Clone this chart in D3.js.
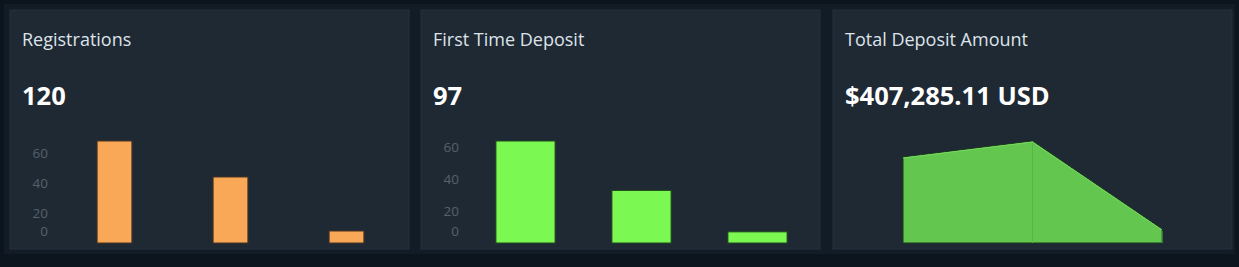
<!DOCTYPE html>
<html>
<head>
<meta charset="utf-8">
<script src="https://cdn.jsdelivr.net/npm/d3@7.9.0/dist/d3.min.js"></script>
<style>
  html, body { margin: 0; padding: 0; background: #0e1821; }
  svg { display: block; }
</style>
</head>
<body>
<svg id="chart" width="1239" height="267"></svg>
<script>
const titles = ['Registrations', 'First Time Deposit', 'Total Deposit Amount'];
const totals = ['120', '97', '$407,285.11 USD'];
const periods = ['P1', 'P2', 'P3'];
const registrations = [68, 44, 8];
const firstDeposits = [64, 33, 7];
const depositAmounts = [173380, 205640, 28265.11];
const yTicks = [0, 20, 40, 60];

const svg = d3.select('#chart');

// background bands
svg.append('rect').attr('width', 1239).attr('height', 267).attr('fill', '#0c151e');
svg.append('rect').attr('x', 4).attr('y', 4).attr('width', 1231).attr('height', 250).attr('fill', '#111c26');

const panelX = [10, 421, 833];
const panelW = 399;
const panelTop = 10, panelH = 239;
const baseY = 243, topY = 141;

const panels = svg.selectAll('g.panel')
  .data(titles)
  .enter()
  .append('g')
  .attr('class', 'panel')
  .attr('transform', (d, i) => `translate(${panelX[i]},${panelTop})`);

panels.append('rect')
  .attr('width', panelW)
  .attr('height', panelH)
  .attr('fill', '#1e2934')
  .attr('stroke', '#24303c')
  .attr('stroke-width', 1);

panels.append('text')
  .attr('x', 12)
  .attr('y', 35.5)
  .attr('fill', '#dde3e9')
  .style('font', '18px "Open Sans", sans-serif')
  .text(d => d);

panels.append('text')
  .attr('x', 12)
  .attr('y', 95)
  .attr('fill', '#ffffff')
  .style('font', 'bold 25.5px "Open Sans", sans-serif')
  .text((d, i) => totals[i]);

// Bar panel helper
function drawBars(g, values, color, stroke, padInner) {
  const x = d3.scaleBand()
    .domain(periods)
    .range([46.5, 394.5])
    .paddingInner(padInner)
    .paddingOuter(padInner / 2);
  const y = d3.scaleLinear()
    .domain([0, d3.max(values)])
    .range([baseY - panelTop, topY - panelTop]);

  const axis = g.append('g')
    .attr('transform', 'translate(40,0)')
    .call(d3.axisLeft(y).tickValues(yTicks).tickSize(0).tickPadding(2));
  axis.select('.domain').remove();
  axis.selectAll('text')
    .attr('fill', '#56616c')
    .style('font', '13.5px "Open Sans", sans-serif');
  axis.selectAll('.tick').filter(d => d === 0).select('text').attr('dy', '-0.55em');

  g.selectAll('rect.bar')
    .data(values)
    .enter()
    .append('rect')
    .attr('class', 'bar')
    .attr('x', (d, i) => x(periods[i]))
    .attr('width', x.bandwidth())
    .attr('y', d => y(d))
    .attr('height', d => y(0) - y(d))
    .attr('fill', color)
    .attr('stroke', stroke)
    .attr('stroke-width', 1);
}

drawBars(panels.filter((d, i) => i === 0), registrations, '#f8a857', '#4a3320', 0.7);
drawBars(panels.filter((d, i) => i === 1), firstDeposits, '#7cf853', '#1f4a1a', 0.49);

// Area panel
const g3 = panels.filter((d, i) => i === 2);
const xp = d3.scalePoint().domain(periods).range([70, 329]);
const ya = d3.scaleLinear()
  .domain([0, d3.max(depositAmounts)])
  .range([baseY - panelTop, topY - panelTop]);

const area = d3.area()
  .x((d, i) => xp(periods[i]))
  .y0(ya(0))
  .y1(d => ya(d));
const line = d3.line()
  .x((d, i) => xp(periods[i]))
  .y(d => ya(d));

g3.append('path')
  .datum(depositAmounts)
  .attr('d', area)
  .attr('fill', '#63c74f')
  .attr('stroke', '#173a18')
  .attr('stroke-width', 1);

g3.append('path')
  .datum(depositAmounts)
  .attr('d', line)
  .attr('fill', 'none')
  .attr('stroke', '#7ad764')
  .attr('stroke-width', 1)
  .attr('transform', 'translate(0,1)');

g3.selectAll('line.seam')
  .data(depositAmounts.slice(1))
  .enter()
  .append('line')
  .attr('class', 'seam')
  .attr('x1', (d, i) => xp(periods[i + 1]))
  .attr('x2', (d, i) => xp(periods[i + 1]))
  .attr('y1', d => ya(d) + 2)
  .attr('y2', ya(0))
  .attr('stroke', '#58b646')
  .attr('stroke-width', 1);
</script>
</body>
</html>
